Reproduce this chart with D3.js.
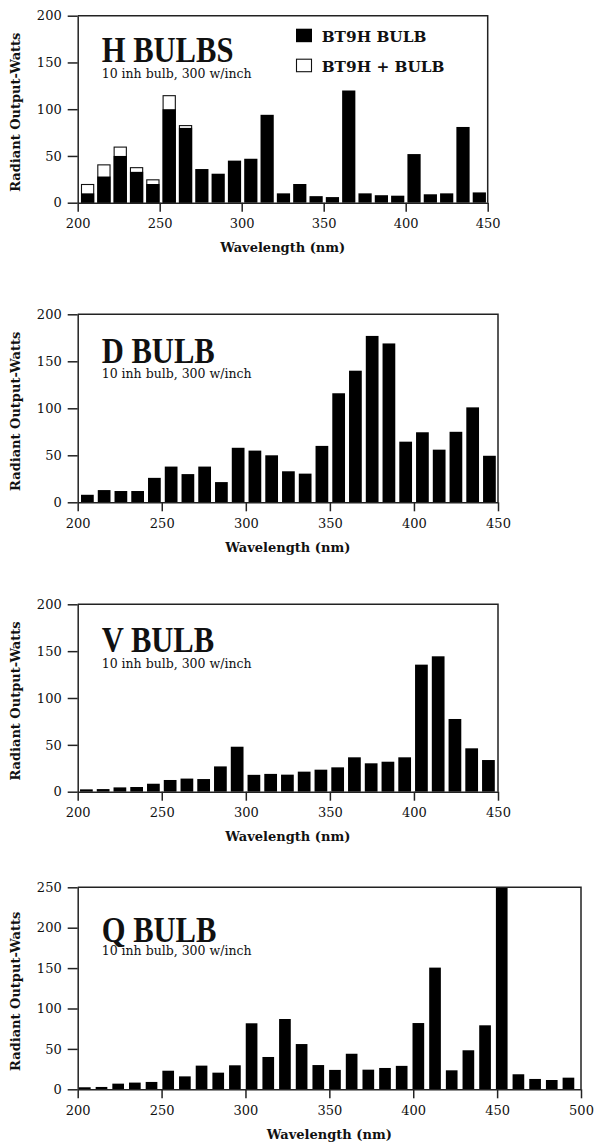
<!DOCTYPE html>
<html>
<head>
<meta charset="utf-8">
<script src="https://cdn.jsdelivr.net/npm/d3@7"></script>
<style>
body { margin: 0; background: #fff; }
svg { display: block; }
.axis text { font-family: "DejaVu Serif", serif; font-size: 13px; fill: #111; }
.axis path, .axis line { stroke: #222; stroke-width: 1.5; }
.frame { stroke: #222; stroke-width: 1.5; fill: none; }
.title { font-family: "Liberation Serif", serif; font-weight: bold; font-size: 36px; fill: #111; }
.subtitle { font-family: "DejaVu Serif", serif; font-size: 12.5px; fill: #111; }
.axis-label { font-family: "DejaVu Serif", serif; font-weight: bold; font-size: 13px; fill: #111; }
.legend-label { font-family: "DejaVu Serif", serif; font-weight: bold; font-size: 15.3px; fill: #111; }
</style>
</head>
<body>
<svg id="chart" width="594" height="1143"></svg>
<script>
////////////
/// DATA ///
////////////

// wavelength bins (nm), bar sits at the start of each 10 nm bin
const bins450 = [200, 210, 220, 230, 240, 250, 260, 270, 280, 290, 300, 310, 320,
                 330, 340, 350, 360, 370, 380, 390, 400, 410, 420, 430, 440];
const bins500 = [200, 210, 220, 230, 240, 250, 260, 270, 280, 290, 300, 310, 320,
                 330, 340, 350, 360, 370, 380, 390, 400, 410, 420, 430, 440,
                 450, 460, 470, 480, 490];

// H bulb: BT9H bulb alone and BT9H + bulb (only first bins differ)
const hBulb = [10, 28, 50, 33, 20, 100, 80, 36, 31, 45, 47, 94, 10,
               20, 7, 6, 120, 10, 8, 7.5, 52, 9, 10, 81, 11];
const hPlusBulb = [20, 41, 60, 38, 25, 115, 83, null, null, null, null, null, null,
                   null, null, null, null, null, null, null, null, null, null, null, null];

const dBulb = [8, 13, 12, 12, 26, 38, 30, 38, 21.5, 58, 55, 50, 33,
               30.5, 60, 116, 140, 177, 169, 64.5, 74.5, 56, 75, 101, 49.5];

const vBulb = [2.5, 2.8, 4.6, 5, 8.5, 12.5, 14, 13.5, 27, 48, 18, 19, 18.2,
               21.4, 23.5, 26, 36.7, 30.3, 32, 36.7, 135.6, 144.5, 77.6, 46.3, 33.8];

const qBulb = [2.5, 2.9, 7, 8.3, 9.1, 23, 16, 29.3, 20.6, 29.7, 81.7, 40, 87,
               56, 30, 24, 44, 24.3, 26.4, 29, 82, 150.6, 23.5, 48.3, 79.2,
               250, 18.6, 12.8, 11.5, 14.4];

// tick labels
const yTicks200 = [0, 50, 100, 150, 200];
const yTicks250 = [0, 50, 100, 150, 200, 250];
const xTicks450 = [200, 250, 300, 350, 400, 450];
const xTicks500 = [200, 250, 300, 350, 400, 450, 500];

const legendLabels = ['BT9H BULB', 'BT9H + BULB'];
const subtitleText = '10 inh bulb, 300 w/inch';

//////////////
/// LAYOUT ///
//////////////

const panels = [
    {title: 'H BULBS', bins: bins450, values: hBulb, extra: hPlusBulb,
     xMax: 450, yMax: 200, xTicks: xTicks450, yTicks: yTicks200,
     top: 15.7, base: 202.7, left: 77.7, right: 487.7,
     pIn: 0.19, pOut: 0.155, align: 0.65, titleDy: 46, subDy: 62.6, legend: true},
    {title: 'D BULB', bins: bins450, values: dBulb,
     xMax: 450, yMax: 200, xTicks: xTicks450, yTicks: yTicks200,
     top: 314.3, base: 502.3, left: 77.7, right: 498,
     pIn: 0.24, pOut: 0.165, align: 0.6, titleDy: 48.4, subDy: 64},
    {title: 'V BULB', bins: bins450, values: vBulb,
     xMax: 450, yMax: 200, xTicks: xTicks450, yTicks: yTicks200,
     top: 604.3, base: 791.7, left: 77.7, right: 498,
     pIn: 0.24, pOut: 0.165, align: 0.42, titleDy: 47.4, subDy: 63.4},
    {title: 'Q BULB', bins: bins500, values: qBulb,
     xMax: 500, yMax: 250, xTicks: xTicks500, yTicks: yTicks250,
     top: 887.3, base: 1089.3, left: 77.7, right: 581,
     pIn: 0.30, pOut: 0.24, align: 0.16, titleDy: 54.4, subDy: 67.7}
];

const svg = d3.select('#chart');

/////////////////////
/// DRAW A PANEL ///
/////////////////////

function drawPanel(p) {
    const g = svg.append('g');

    // scales
    const x = d3.scaleLinear().domain([200, p.xMax]).range([p.left, p.right]);
    const band = d3.scaleBand()
        .domain(p.bins)
        .range([p.left, p.right])
        .paddingInner(p.pIn)
        .paddingOuter(p.pOut)
        .align(p.align);
    const y = d3.scaleLinear().domain([0, p.yMax]).range([p.base, p.top]);

    // white stacked part (BT9H + bulb), drawn under the black bars
    if (p.extra) {
        g.append('g').selectAll('rect')
            .data(p.bins.map(function(b, i) {return {bin: b, v: p.extra[i]}})
                .filter(function(d) {return d.v != null}))
            .join('rect')
            .attr('x', function(d) {return band(d.bin) + 0.5})
            .attr('y', function(d) {return y(d.v) + 0.5})
            .attr('width', band.bandwidth() - 1)
            .attr('height', function(d) {return y(0) - y(d.v) - 0.5})
            .attr('fill', '#fff')
            .attr('stroke', '#111')
            .attr('stroke-width', 1.1);
    }

    // black bars
    g.append('g').selectAll('rect')
        .data(p.bins.map(function(b, i) {return {bin: b, v: p.values[i]}}))
        .join('rect')
        .attr('x', function(d) {return band(d.bin)})
        .attr('y', function(d) {return y(d.v)})
        .attr('width', band.bandwidth())
        .attr('height', function(d) {return y(0) - y(d.v)})
        .attr('fill', '#000');

    // frame (top and right)
    g.append('path')
        .attr('class', 'frame')
        .attr('d', 'M' + p.left + ',' + p.top + 'H' + p.right + 'V' + p.base);

    // axes
    g.append('g')
        .attr('class', 'axis')
        .attr('transform', 'translate(0,' + p.base + ')')
        .call(d3.axisBottom(x).tickValues(p.xTicks).tickSize(9).tickSizeOuter(0)
            .tickPadding(7).tickFormat(d3.format('d')))
        .attr('font-family', null).attr('font-size', null);

    g.append('g')
        .attr('class', 'axis')
        .attr('transform', 'translate(' + p.left + ',0)')
        .call(d3.axisLeft(y).tickValues(p.yTicks).tickSize(10).tickSizeOuter(0)
            .tickPadding(6).tickFormat(d3.format('d')))
        .attr('font-family', null).attr('font-size', null);

    // axis labels
    g.append('text')
        .attr('class', 'axis-label')
        .attr('text-anchor', 'middle')
        .attr('x', (p.left + p.right) / 2)
        .attr('y', p.base + 49.5)
        .text('Wavelength (nm)');

    g.append('text')
        .attr('class', 'axis-label')
        .attr('text-anchor', 'middle')
        .attr('transform', 'translate(20,' + ((p.top + p.base) / 2 + 3) + ') rotate(-90)')
        .text('Radiant Output-Watts');

    // title + subtitle
    g.append('text')
        .attr('class', 'title')
        .attr('transform', 'translate(101.7,' + (p.top + p.titleDy) + ') scale(0.85,1)')
        .text(p.title);

    g.append('text')
        .attr('class', 'subtitle')
        .attr('x', 101.7)
        .attr('y', p.top + p.subDy)
        .text(subtitleText);

    // legend (only first panel)
    if (p.legend) {
        const lg = g.append('g').attr('transform', 'translate(296,' + p.top + ')');
        lg.selectAll('rect').data(legendLabels).join('rect')
            .attr('x', function(d, i) {return i ? 0.5 : 0})
            .attr('y', function(d, i) {return 13 + i * 30 + (i ? 0.5 : 0)})
            .attr('width', function(d, i) {return i ? 15 : 16})
            .attr('height', function(d, i) {return i ? 12.5 : 13.5})
            .attr('fill', function(d, i) {return i ? '#fff' : '#000'})
            .attr('stroke', function(d, i) {return i ? '#111' : 'none'})
            .attr('stroke-width', 1.1);
        lg.selectAll('text').data(legendLabels).join('text')
            .attr('class', 'legend-label')
            .attr('x', 25.7)
            .attr('y', function(d, i) {return 26 + i * 30})
            .text(function(d) {return d});
    }
}

panels.forEach(drawPanel);
</script>
</body>
</html>
